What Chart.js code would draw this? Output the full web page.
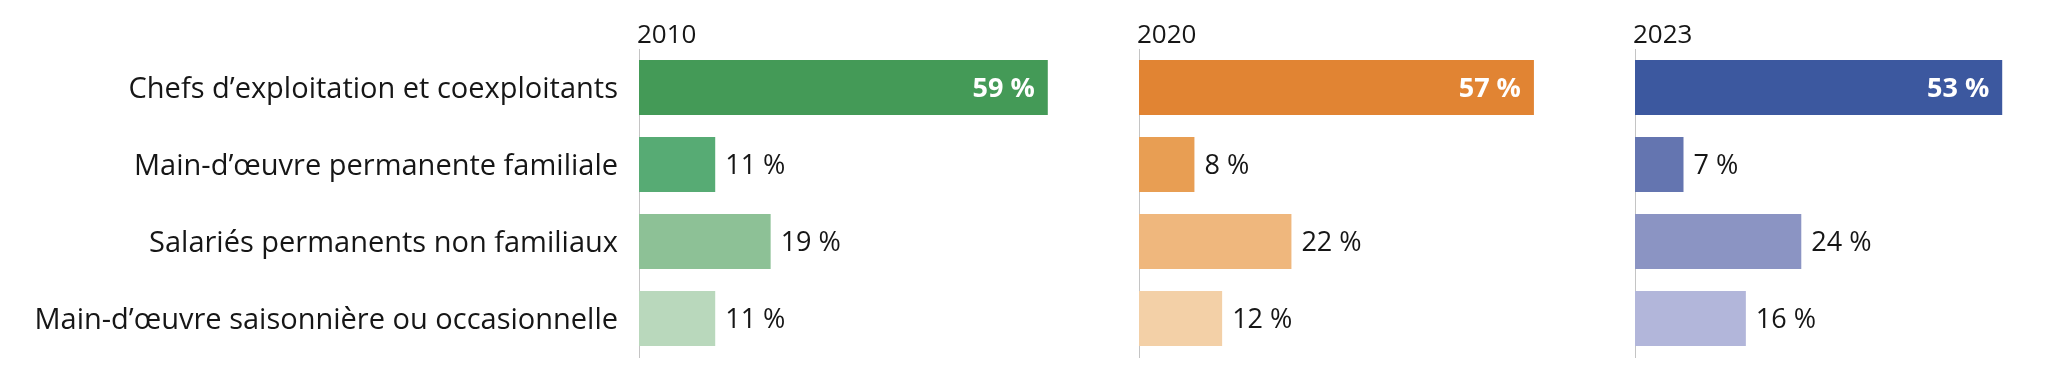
<!DOCTYPE html>
<html>
<head>
<meta charset="utf-8">
<script src="https://cdn.jsdelivr.net/npm/chart.js@4"></script>
<style>
  html, body { margin: 0; padding: 0; background: #fff; overflow: hidden; }
  #wrap { position: relative; width: 2048px; height: 366px; overflow: hidden; }
  canvas { position: absolute; top: 0; }
</style>
</head>
<body>
<div id="wrap">
  <canvas id="c2010" width="1124" height="366"></canvas>
  <canvas id="c2020" width="493" height="366"></canvas>
  <canvas id="c2023" width="493" height="366"></canvas>
</div>
<script>
const categories = [
    "Chefs d\u2019exploitation et coexploitants",
    "Main-d\u2019\u0153uvre permanente familiale",
    "Salari\u00e9s permanents non familiaux",
    "Main-d\u2019\u0153uvre saisonni\u00e8re ou occasionnelle",
];
const years = ["2010", "2020", "2023"];
const values2010 = [59, 11, 19, 11];
const values2020 = [57, 8, 22, 12];
const values2023 = [53, 7, 24, 16];

const colors2010 = ["#449a57", "#57ab74", "#8dc196", "#b9d8bc"];
const colors2020 = ["#e18433", "#e89e53", "#efb77d", "#f3d0a7"];
const colors2023 = ["#3c589f", "#6475b0", "#8b94c3", "#b2b6da"];

const FONT = "'Open Sans', Lato, sans-serif";
const TEXT = "#161616";

// year above the axis, value labels next to / inside the bars
const panelText = {
    id: "panelText",
    afterDatasetsDraw(chart, args, opts) {
        const ctx = chart.ctx;
        const area = chart.chartArea;
        ctx.save();
        ctx.fillStyle = TEXT;
        ctx.font = "26px " + FONT;
        ctx.textAlign = "left";
        ctx.textBaseline = "alphabetic";
        ctx.fillText(opts.year, area.left - 2, area.top - 6);

        const meta = chart.getDatasetMeta(0);
        const data = chart.data.datasets[0].data;
        meta.data.forEach((bar, i) => {
            const txt = data[i] + "\u00a0%";
            ctx.textBaseline = "middle";
            if (i === 0) {
                ctx.font = "bold 27px " + FONT;
                ctx.fillStyle = "#ffffff";
                ctx.textAlign = "right";
                ctx.fillText(txt, bar.x - 13, bar.y + 2);
            } else {
                ctx.font = "27px " + FONT;
                ctx.fillStyle = TEXT;
                ctx.textAlign = "left";
                ctx.fillText(txt, bar.x + 10, bar.y + 2);
            }
        });
        ctx.restore();
    }
};

function createPanel(id, year, values, colors, axisX, showLabels) {
    const yWidth = showLabels ? 639 : 8;
    const canvas = document.getElementById(id);
    canvas.style.left = (axisX - yWidth) + "px";
    return new Chart(canvas, {
        type: "bar",
        data: {
            labels: categories,
            datasets: [{
                data: values,
                backgroundColor: colors,
                borderWidth: 0,
                barPercentage: 0.714,
                categoryPercentage: 1,
            }]
        },
        options: {
            indexAxis: "y",
            responsive: false,
            animation: false,
            events: [],
            layout: {
                padding: { top: 49, bottom: 9, left: 0, right: 0 }
            },
            scales: {
                x: {
                    display: false,
                    min: 0,
                    max: 70,
                },
                y: {
                    afterFit: (scale) => {
                        scale.width = yWidth;
                        scale.paddingTop = 0;
                        scale.paddingBottom = 0;
                    },
                    grid: { display: false, drawTicks: false },
                    border: { display: true, color: "#c4c4c4", width: 1 },
                    ticks: {
                        display: showLabels,
                        padding: 21,
                        labelOffset: 2,
                        color: TEXT,
                        font: { family: FONT, size: 29 },
                    },
                }
            },
            plugins: {
                legend: { display: false },
                tooltip: { enabled: false },
                panelText: { year: year },
            }
        },
        plugins: [panelText]
    });
}

createPanel("c2010", years[0], values2010, colors2010, 639, true);
createPanel("c2020", years[1], values2020, colors2020, 1139, false);
createPanel("c2023", years[2], values2023, colors2023, 1635, false);
</script>
</body>
</html>
